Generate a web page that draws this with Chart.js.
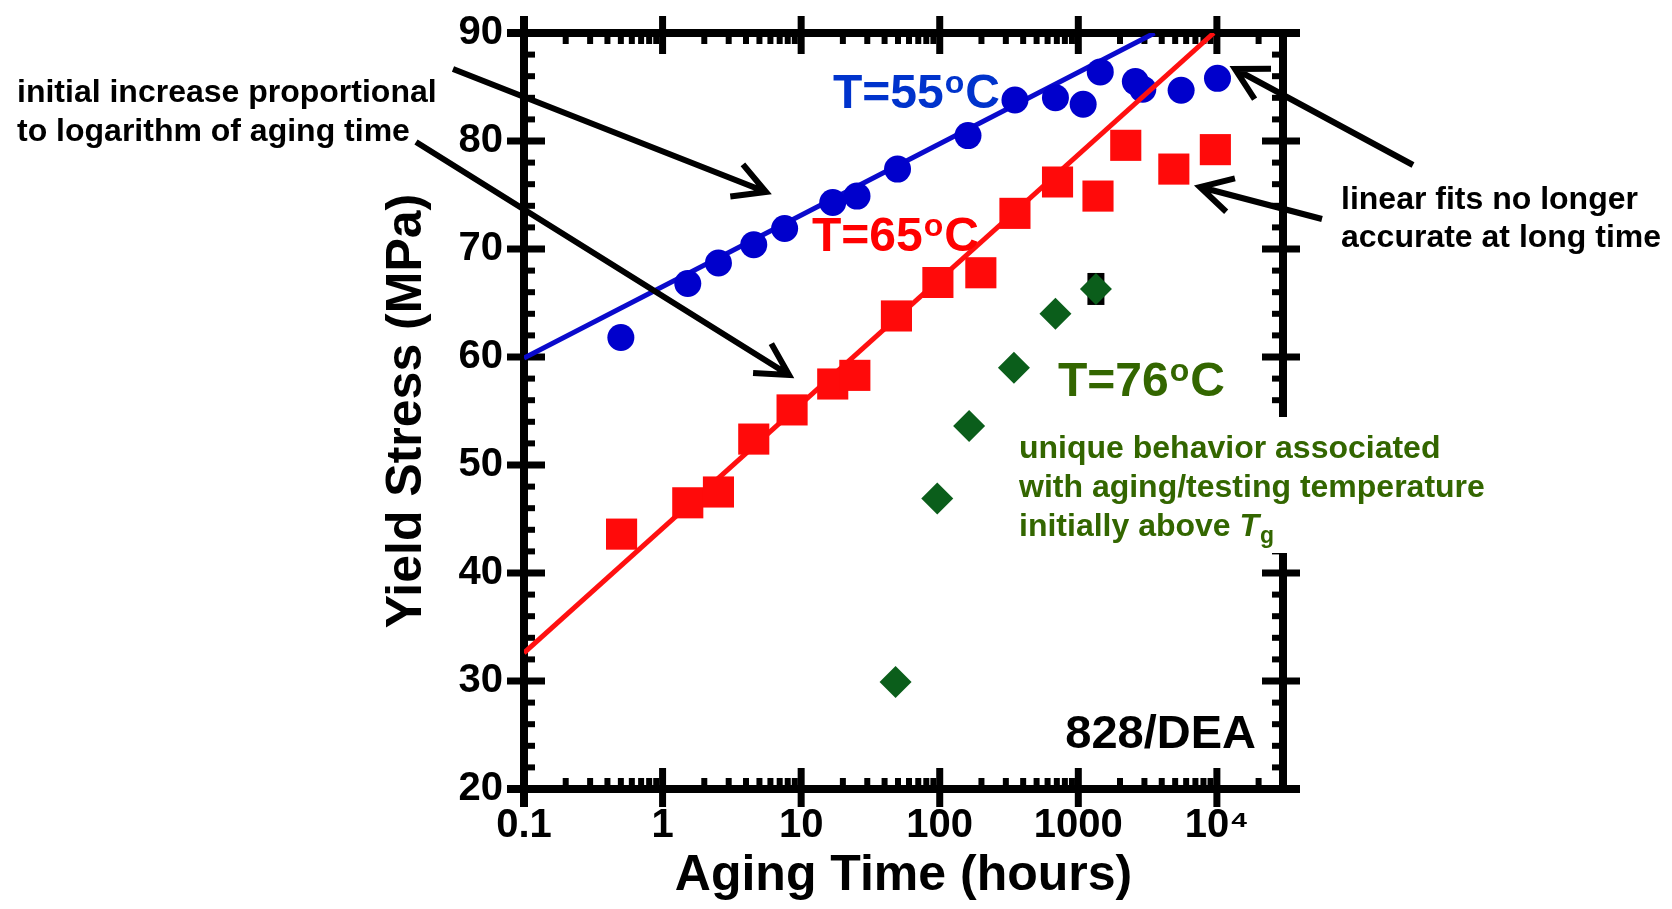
<!DOCTYPE html>
<html>
<head>
<meta charset="utf-8">
<script src="https://cdn.jsdelivr.net/npm/chart.js@4.4.1/dist/chart.umd.min.js"></script>
<style>
body{margin:0;background:#fff;overflow:hidden}
canvas{display:block}
</style>
</head>
<body>
<canvas id="c" width="1672" height="909"></canvas>
<script>
const FONT = "'Liberation Sans', Arial, Helvetica, sans-serif";

// aging time (hours) / yield stress (MPa)
const t55Hours = [0.5, 1.52, 2.53, 4.55, 7.6, 16.9, 25.3, 49.6, 160, 349, 684, 1084, 1440, 2580, 2920, 5520, 10100];
const t55Stress = [61.8, 66.8, 68.7, 70.4, 71.9, 74.3, 74.9, 77.4, 80.5, 83.8, 84.0, 83.4, 86.4, 85.5, 84.8, 84.7, 85.8];
const t65Hours = [0.506, 1.52, 2.53, 4.55, 8.6, 16.9, 24.4, 48.7, 97, 198, 349, 708, 1387, 2200, 4890, 9750];
const t65Stress = [43.6, 46.5, 47.5, 52.4, 55.1, 57.5, 58.3, 63.8, 66.9, 67.8, 73.3, 76.2, 74.9, 79.6, 77.4, 79.2];
const t76Hours = [48, 96, 163, 343, 684, 1340];
const t76Stress = [29.9, 46.9, 53.6, 59.0, 64.0, 66.3];
const errBarHours = [1340];
const errBarStress = [66.3];
const fit55Hours = [0.1, 3550];
const fit55Stress = [59.9, 90];
const fit65Hours = [0.1, 9500];
const fit65Stress = [32.6, 90];

const xTicks = [0.1, 1, 10, 100, 1000, 10000];
const xTickLabels = ['0.1', '1', '10', '100', '1000', '10⁴'];
const yTicks = [20, 30, 40, 50, 60, 70, 80, 90];

function pts(xs, ys){
    return xs.map((x, i) => ({x: x, y: ys[i]}));
}

function seg(ctx, x1, y1, x2, y2){
    ctx.beginPath();
    ctx.moveTo(x1, y1);
    ctx.lineTo(x2, y2);
    ctx.stroke();
}

function txt(ctx, s, x, y, size, color, style){
    ctx.font = (style || 'bold') + ' ' + size + 'px ' + FONT;
    ctx.fillStyle = color;
    ctx.fillText(s, x, y);
    return ctx.measureText(s).width;
}

function temp(ctx, num, x, y, color){
    let w = txt(ctx, 'T=' + num, x, y, 48, color);
    w += txt(ctx, 'o', x + w + 1, y - 15, 32, color) + 1;
    txt(ctx, 'C', x + w + 1, y, 48, color);
}

function arrow(ctx, x1, y1, x2, y2){
    const a = Math.atan2(y2 - y1, x2 - x1), len = 36, sp = 0.5;
    ctx.beginPath();
    ctx.moveTo(x1, y1);
    ctx.lineTo(x2, y2);
    ctx.moveTo(x2 - len * Math.cos(a - sp), y2 - len * Math.sin(a - sp));
    ctx.lineTo(x2, y2);
    ctx.lineTo(x2 - len * Math.cos(a + sp), y2 - len * Math.sin(a + sp));
    ctx.stroke();
}

// box axes with ticks on all four sides
const frame = {
    id: 'frame',
    beforeDatasetsDraw(chart){
        const ctx = chart.ctx, a = chart.chartArea, x = chart.scales.x, y = chart.scales.y;
        ctx.save();
        ctx.strokeStyle = '#000';
        ctx.lineWidth = 8;
        seg(ctx, a.left - 17, a.top, a.right + 17, a.top);
        seg(ctx, a.left - 17, a.bottom, a.right + 17, a.bottom);
        seg(ctx, a.left, a.top - 17, a.left, a.bottom + 18);
        seg(ctx, a.right, a.top - 4, a.right, a.bottom + 4);
        ctx.lineWidth = 7;
        xTicks.forEach(v => {
            const p = x.getPixelForValue(v);
            seg(ctx, p, a.top - 17, p, a.top + 21);
            seg(ctx, p, a.bottom - 21, p, a.bottom + 18);
        });
        yTicks.forEach(v => {
            const p = y.getPixelForValue(v);
            seg(ctx, a.left - 17, p, a.left + 21, p);
            seg(ctx, a.right - 21, p, a.right + 17, p);
        });
        ctx.lineWidth = 6;
        xTicks.forEach(d => {
            for(let k = 2; k < 10; k++){
                if(k * d >= x.max) break;
                const p = x.getPixelForValue(k * d);
                seg(ctx, p, a.top, p, a.top + 11);
                seg(ctx, p, a.bottom - 11, p, a.bottom);
            }
        });
        for(let v = y.min + 2; v < y.max; v += 2){
            if(v % 10 === 0) continue;
            const p = y.getPixelForValue(v);
            seg(ctx, a.left, p, a.left + 11, p);
            seg(ctx, a.right - 11, p, a.right, p);
        }
        ctx.restore();
    },
    afterDraw(chart){
        const ctx = chart.ctx;
        ctx.save();
        ctx.fillStyle = '#fff';
        ctx.fillRect(1262, 417, 40, 136);
        ctx.textAlign = 'left';
        ctx.textBaseline = 'alphabetic';
        txt(ctx, 'initial increase proportional', 17, 102, 32, '#000');
        txt(ctx, 'to logarithm of aging time', 17, 141, 32, '#000');
        txt(ctx, 'linear fits no longer', 1341, 209, 32, '#000');
        txt(ctx, 'accurate at long time', 1341, 247, 32, '#000');
        const g = '#336600';
        txt(ctx, 'unique behavior associated', 1019, 458, 32, g);
        txt(ctx, 'with aging/testing temperature', 1019, 497, 32, g);
        let w = txt(ctx, 'initially above ', 1019, 536, 32, g);
        w += txt(ctx, 'T', 1019 + w, 536, 32, g, 'italic bold');
        txt(ctx, 'g', 1019 + w + 1, 543, 23, g);
        temp(ctx, '55', 833, 108, '#0033cc');
        temp(ctx, '65', 812, 251, '#ff0000');
        temp(ctx, '76', 1058, 396, g);
        ctx.textAlign = 'right';
        txt(ctx, '828/DEA', 1256, 748, 47, '#000');
        ctx.strokeStyle = '#000';
        ctx.lineWidth = 6;
        arrow(ctx, 453, 69, 766, 192);
        arrow(ctx, 416, 142, 789, 375);
        arrow(ctx, 1413, 165, 1235, 69);
        arrow(ctx, 1322, 219, 1200, 187);
        ctx.restore();
    }
};

Chart.defaults.font.family = FONT;

new Chart(document.getElementById('c'), {
    type: 'scatter',
    data: {
        datasets: [
            {label: 'T=76', data: pts(t76Hours, t76Stress), order: 0, pointStyle: 'rectRot', pointRadius: 16,
             backgroundColor: '#0b5e1b', pointBorderWidth: 0},
            {label: 'bar', data: pts(errBarHours, errBarStress), order: 1, pointStyle: 'line', pointRadius: 16,
             pointRotation: 90, pointBorderWidth: 17, borderColor: '#000'},
            {label: 'T=65', data: pts(t65Hours, t65Stress), order: 2, pointStyle: 'rect', pointRadius: 22,
             backgroundColor: '#ff0a0a', pointBorderWidth: 0},
            {label: 'fit65', data: pts(fit65Hours, fit65Stress), order: 3, showLine: true, pointRadius: 0,
             borderColor: '#ff1010', borderWidth: 5},
            {label: 'T=55', data: pts(t55Hours, t55Stress), order: 4, pointStyle: 'circle', pointRadius: 13.5,
             backgroundColor: '#0000cc', pointBorderWidth: 0},
            {label: 'fit55', data: pts(fit55Hours, fit55Stress), order: 5, showLine: true, pointRadius: 0,
             borderColor: '#0a0acc', borderWidth: 5}
        ]
    },
    options: {
        responsive: false,
        animation: false,
        events: [],
        layout: {padding: {top: 29, right: 389, bottom: 0, left: 0}},
        plugins: {legend: {display: false}, tooltip: {enabled: false}},
        scales: {
            x: {
                type: 'logarithmic', min: 0.1, max: 30000,
                afterBuildTicks: s => { s.ticks = xTicks.map(v => ({value: v})); },
                afterFit: s => { s.height = 120; s.paddingLeft = 0; s.paddingRight = 0; s.paddingTop = 0; s.paddingBottom = 0; },
                grid: {display: false, drawTicks: true, tickLength: 13},
                border: {display: false},
                ticks: {autoSkip: false, maxRotation: 0, minRotation: 0, padding: 0, color: '#000',
                        font: {size: 40, weight: 'bold'}, callback: (v, i) => xTickLabels[i]},
                title: {display: true, text: 'Aging Time (hours)', color: '#000',
                        font: {size: 50, weight: 'bold', lineHeight: 1}, padding: {top: 0, bottom: 8}}
            },
            y: {
                min: 20, max: 90,
                afterBuildTicks: s => { s.ticks = yTicks.map(v => ({value: v})); },
                afterFit: s => { s.width = 524; s.paddingLeft = 0; s.paddingRight = 0; s.paddingTop = 0; s.paddingBottom = 0; },
                grid: {display: false, drawTicks: true, tickLength: 21},
                border: {display: false},
                ticks: {padding: 0, color: '#000', font: {size: 40, weight: 'bold', lineHeight: 1}},
                title: {display: true, text: 'Yield Stress (MPa)', color: '#000',
                        font: {size: 50, weight: 'bold', lineHeight: 1}, padding: {top: 382, bottom: 0}}
            }
        }
    },
    plugins: [frame]
});
</script>
</body>
</html>
